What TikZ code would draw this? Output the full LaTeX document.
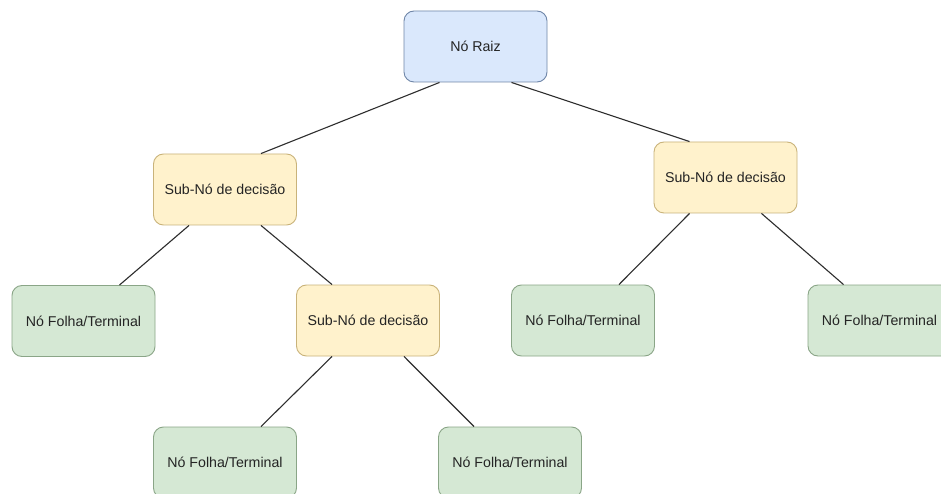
\documentclass[tikz,border=0pt]{standalone}
\usepackage{fontspec}
\setmainfont{Liberation Sans}
\usetikzlibrary{calc}
\definecolor{rootfill}{HTML}{DAE8FC}
\definecolor{rootline}{HTML}{6F86A8}
\definecolor{subfill}{HTML}{FFF2CC}
\definecolor{subline}{HTML}{C9B37A}
\definecolor{leaffill}{HTML}{D5E8D4}
\definecolor{leafline}{HTML}{8AA587}
\definecolor{inktext}{HTML}{242424}
\definecolor{linkline}{HTML}{2E2E2E}
\begin{document}
\begin{tikzpicture}[x=1pt,y=-1pt,
  box/.style={draw, rounded corners=10pt, minimum width=143pt, minimum height=71pt,
    inner sep=0pt, line width=0.9pt, text=inktext,
    font=\fontsize{14.2}{16}\selectfont},
  rootbox/.style={box, fill=rootfill, draw=rootline},
  subbox/.style={box, fill=subfill, draw=subline},
  leafbox/.style={box, fill=leaffill, draw=leafline},
  link/.style={draw=linkline, line width=1.1pt}]
\clip (0,0) rectangle (941,494);
\fill[white] (0,0) rectangle (941,494);

% tree levels
\node[rootbox] (root) at (475.5,46.5) {Nó Raiz};
\node[subbox]  (s1)   at (225,189.5)  {Sub-Nó de decisão};
\node[subbox]  (s3)   at (725.5,177.5) {Sub-Nó de decisão};
\node[leafbox] (l1)   at (83.5,321)   {Nó Folha/Terminal};
\node[subbox]  (s2)   at (368,320.5)  {Sub-Nó de decisão};
\node[leafbox] (l4)   at (583,320.5)  {Nó Folha/Terminal};
\node[leafbox] (l5)   at (879.5,320.5) {Nó Folha/Terminal};
\node[leafbox] (l2)   at (225,462.5)  {Nó Folha/Terminal};
\node[leafbox] (l3)   at (510,462.5)  {Nó Folha/Terminal};

% connectors: leave at 1/4 and 3/4 of the bottom edge, enter at 3/4 or 1/4 of the top edge
\path[link] ($(root.south west)!0.25!(root.south east)$) -- ($(s1.north west)!0.75!(s1.north east)$);
\path[link] ($(root.south west)!0.75!(root.south east)$) -- ($(s3.north west)!0.25!(s3.north east)$);
\path[link] ($(s1.south west)!0.25!(s1.south east)$) -- ($(l1.north west)!0.75!(l1.north east)$);
\path[link] ($(s1.south west)!0.75!(s1.south east)$) -- ($(s2.north west)!0.25!(s2.north east)$);
\path[link] ($(s2.south west)!0.25!(s2.south east)$) -- ($(l2.north west)!0.75!(l2.north east)$);
\path[link] ($(s2.south west)!0.75!(s2.south east)$) -- ($(l3.north west)!0.25!(l3.north east)$);
\path[link] ($(s3.south west)!0.25!(s3.south east)$) -- ($(l4.north west)!0.75!(l4.north east)$);
\path[link] ($(s3.south west)!0.75!(s3.south east)$) -- ($(l5.north west)!0.25!(l5.north east)$);
\end{tikzpicture}
\end{document}
